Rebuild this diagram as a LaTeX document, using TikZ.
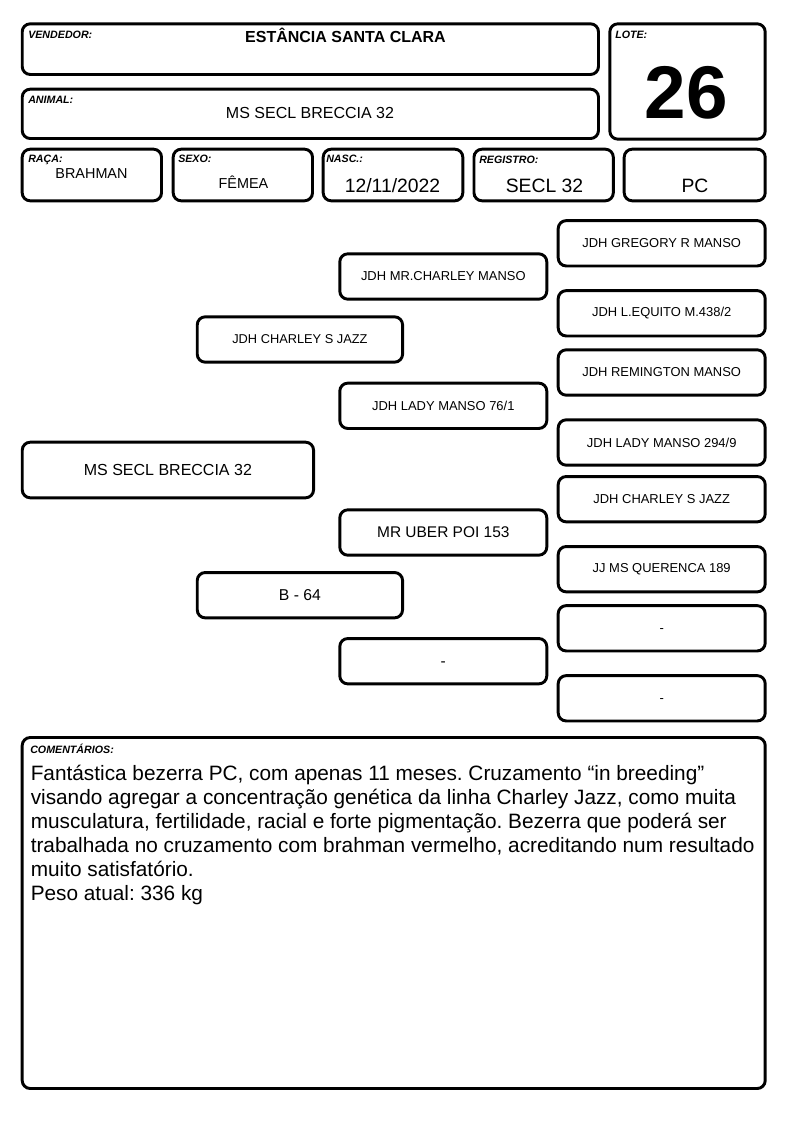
\documentclass[tikz,border=0pt]{standalone}
\usepackage{fontspec}
\setmainfont{Liberation Sans}
\frenchspacing

\begin{document}
\begin{tikzpicture}[
    x = 0.75pt, y = -0.75pt,
    bx/.style = {draw, line width = 2.2pt, rounded corners = 6pt, inner sep = 0pt},
    lb/.style = {inner sep = 0pt, anchor = base west, font = \fontsize{8}{9}\selectfont\bfseries\itshape},
    tx/.style = {inner sep = 0pt, anchor = base},
    pr/.style = {bx, minimum width = 155.25pt, minimum height = 34pt, font = \fontsize{9.7}{11}\selectfont},
]

\useasboundingbox (0,0) rectangle (794,1123);

% header
\node[bx, minimum width = 432.2pt, minimum height = 38pt] (vend) at (310.35,49.15) {};
\node[bx, minimum width = 432.2pt, minimum height = 37pt] (anim) at (310.35,113.85) {};
\node[bx, minimum width = 116.5pt, minimum height = 86.5pt] (lote) at (687.5,81.5) {};
\node[bx, minimum width = 104.5pt, minimum height = 38.7pt] (raca) at (91.85,175) {};
\node[bx, minimum width = 104.5pt, minimum height = 38.7pt] (sexo) at (242.85,175) {};
\node[bx, minimum width = 104.7pt, minimum height = 38.7pt] (nasc) at (393,175) {};
\node[bx, minimum width = 104.5pt, minimum height = 38.7pt] (regi) at (543.65,175) {};
\node[bx, minimum width = 105.75pt, minimum height = 38.7pt] (tipo) at (694.7,175) {};

\node[lb] (lvend) at (28,39) {VENDEDOR:};
\node[tx, font = \fontsize{12}{14}\selectfont\bfseries] (tvend) at (345.5,42.7) {ESTÂNCIA SANTA CLARA};
\node[lb] (lanim) at (28,103.3) {ANIMAL:};
\node[tx, font = \fontsize{12}{14}\selectfont] (tanim) at (310,119) {MS SECL BRECCIA 32};
\node[lb] (llote) at (615,39) {LOTE:};
\node[tx, font = \fontsize{56}{60}\selectfont\bfseries] (tlote) at (686.5,118.3) {26};
\node[lb] (lraca) at (28,163) {RAÇA:};
\node[tx, font = \fontsize{10.8}{12}\selectfont] (traca) at (91.5,178.3) {BRAHMAN};
\node[lb] (lsexo) at (178,163) {SEXO:};
\node[tx, font = \fontsize{10.8}{12}\selectfont] (tsexo) at (243.5,189) {FÊMEA};
\node[lb] (lnasc) at (326,163) {NASC.:};
\node[tx, font = \fontsize{14.5}{16}\selectfont] (tnasc) at (392.5,193) {12/11/2022};
\node[lb] (lregi) at (479,164) {REGISTRO:};
\node[tx, font = \fontsize{14.5}{16}\selectfont] (tregi) at (544.5,193) {SECL 32};
\node[tx, font = \fontsize{14.5}{16}\selectfont] (ttipo) at (695,193) {PC};

% pedigree
\node[pr, minimum width = 218.5pt, minimum height = 41.7pt, font = \fontsize{12}{14}\selectfont] (an) at (167.9,470) {MS SECL BRECCIA 32};

\node[pr, minimum width = 154pt, font = \fontsize{9.6}{11}\selectfont] (s) at (299.9,339.5) {JDH CHARLEY S JAZZ};
\node[pr, minimum width = 154pt, font = \fontsize{11.8}{13}\selectfont] (d) at (299.9,595.2) {B - 64};

\node[pr] (ss) at (443.3,276.5) {JDH MR.CHARLEY MANSO};
\node[pr] (sd) at (443.3,405.8) {JDH LADY MANSO 76/1};
\node[pr, font = \fontsize{11.6}{13}\selectfont] (ds) at (443.3,532.5) {MR UBER POI 153};
\node[pr, font = \fontsize{11.6}{13}\selectfont] (dd) at (443.3,661.2) {\vphantom{X}-};

\node[pr] (sss) at (661.7,243.3) {JDH GREGORY R MANSO};
\node[pr] (ssd) at (661.7,313.3) {JDH L.EQUITO M.438/2};
\node[pr] (sds) at (661.7,372.5) {JDH REMINGTON MANSO};
\node[pr] (sdd) at (661.7,442.5) {JDH LADY MANSO 294/9};
\node[pr] (dss) at (661.7,499.2) {JDH CHARLEY S JAZZ};
\node[pr] (dsd) at (661.7,569.2) {JJ MS QUERENCA 189};
\node[pr] (dds) at (661.7,628.3) {\vphantom{X}-};
\node[pr] (ddd) at (661.7,698.3) {\vphantom{X}-};

% comments
\node[bx, minimum width = 557.25pt, minimum height = 263.25pt] (com) at (393.7,913) {};
\node[lb] (lcom) at (30,753) {COMENTÁRIOS:};
\node[inner sep = 0pt, anchor = base west, align = left, font = \fontsize{15.6}{18}\selectfont] (tcom) at (30.5,900)
  {Fantástica bezerra PC, com apenas 11 meses. Cruzamento “in breeding”\\
   visando agregar a concentração genética da linha Charley Jazz, como muita\\
   musculatura, fertilidade, racial e forte pigmentação. Bezerra que poderá ser\\
   trabalhada no cruzamento com brahman vermelho, acreditando num resultado\\
   muito satisfatório.\\
   Peso atual: 336 kg};

\end{tikzpicture}
\end{document}
